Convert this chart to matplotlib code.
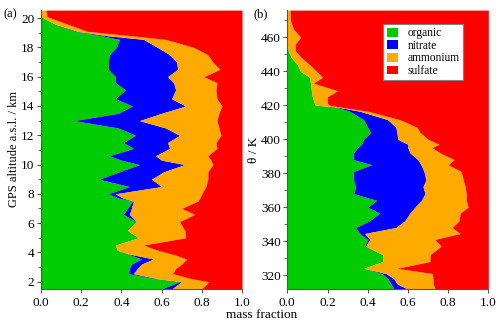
import numpy as np
import matplotlib
matplotlib.use('Agg')
import matplotlib.pyplot as plt
from matplotlib.patches import Patch
from matplotlib.ticker import MultipleLocator

plt.rcParams['font.family'] = ['Liberation Serif', 'DejaVu Serif']

# panel (a): mass fractions vs GPS altitude (km)
alt = [20.55, 20.1, 19.6, 19.1, 18.8, 18.55, 18.0, 17.5, 17.0, 16.5, 16.0, 15.6,
       15.1, 14.5, 14.0, 13.5, 13.0, 12.5, 12.0, 11.5, 11.1, 10.6, 10.3, 10.0,
       9.5, 9.0, 8.5, 8.0, 7.7, 7.5, 7.0, 6.6, 6.1, 5.5, 5.0, 4.5, 4.15, 3.9,
       3.55, 3.2, 2.9, 2.55, 2.2, 2.0, 1.5]
org_a = [0.00, 0.00, 0.07, 0.17, 0.30, 0.39, 0.375, 0.34, 0.335, 0.335, 0.37, 0.37,
         0.42, 0.37, 0.455, 0.385, 0.165, 0.385, 0.47, 0.41, 0.46, 0.34, 0.40, 0.49,
         0.39, 0.29, 0.44, 0.335, 0.39, 0.455, 0.43, 0.41, 0.475, 0.43, 0.485, 0.37, 0.38, 0.43,
         0.50, 0.45, 0.44, 0.435, 0.57, 0.69, 0.60]
nit_a = [0.00, 0.00, 0.00, 0.01, 0.03, 0.12, 0.205, 0.30, 0.34, 0.345, 0.26, 0.29,
         0.25, 0.28, 0.265, 0.215, 0.325, 0.235, 0.22, 0.22, 0.18, 0.23, 0.20, 0.225,
         0.22, 0.26, 0.16, 0.035, 0.02, 0.005, 0.02, 0.03, 0.00, 0.00, 0.00, 0.00, 0.00, 0.005,
         0.06, 0.05, 0.04, 0.025, 0.01, 0.01, 0.05]
amm_a = [0.025, 0.03, 0.06, 0.05, 0.12, 0.11, 0.18, 0.19, 0.18, 0.21, 0.18, 0.215,
         0.20, 0.225, 0.18, 0.285, 0.385, 0.265, 0.205, 0.24, 0.235, 0.26, 0.245, 0.14,
         0.22, 0.28, 0.22, 0.43, 0.38, 0.32, 0.25, 0.325, 0.215, 0.285, 0.235, 0.14, 0.20, 0.215,
         0.165, 0.20, 0.19, 0.195, 0.17, 0.135, 0.15]

# panel (b): mass fractions vs potential temperature (K)
theta = [476, 470, 465, 460, 456, 452, 448, 444, 440, 436.5, 433, 428.5, 425, 421, 420,
         419, 416.5, 411.5, 407, 404, 400, 397, 395, 392, 388, 385, 381, 376, 372,
         368, 364, 360, 356.5, 352, 348, 344.5, 341, 337, 332, 328, 324, 321, 318, 315, 312]
org_b = [0.0, 0.0, 0.0, 0.0, 0.0, 0.005, 0.02, 0.05, 0.065, 0.11, 0.115, 0.12, 0.125, 0.135, 0.14,
         0.24, 0.31, 0.38, 0.40, 0.415, 0.38, 0.37, 0.35, 0.33, 0.33, 0.42, 0.33, 0.33, 0.34,
         0.33, 0.445, 0.40, 0.46, 0.41, 0.34, 0.36, 0.40, 0.385, 0.475, 0.475, 0.38, 0.47, 0.50, 0.515, 0.53]
nit_b = [0.0, 0.0, 0.0, 0.0, 0.0, 0.0, 0.0, 0.0, 0.0, 0.0, 0.0, 0.0, 0.0, 0.0, 0.0,
         0.005, 0.05, 0.12, 0.14, 0.13, 0.17, 0.23, 0.25, 0.28, 0.32, 0.245, 0.35, 0.36, 0.335,
         0.355, 0.223, 0.235, 0.15, 0.175, 0.20, 0.025, 0.01, 0.005, 0.0, 0.0, 0.0, 0.02, 0.03, 0.03, 0.065]
amm_b = [0.013, 0.015, 0.03, 0.066, 0.04, 0.035, 0.05, 0.06, 0.08, 0.066, 0.015, 0.13, 0.075, 0.065, 0.07,
         0.015, 0.04, 0.06, 0.105, 0.115, 0.15, 0.155, 0.12, 0.15, 0.18, 0.135, 0.185, 0.185, 0.21,
         0.205, 0.222, 0.265, 0.25, 0.27, 0.28, 0.475, 0.325, 0.375, 0.235, 0.235, 0.165, 0.23, 0.195, 0.18, 0.14]

species = ['organic', 'nitrate', 'ammonium', 'sulfate']
colors = ['#00cc00', '#0000ff', '#ffaa00', '#ff0000']


def stack(ax, y, org, nit, amm):
    y = np.array(y)
    c1 = np.array(org)
    c2 = c1 + np.array(nit)
    c3 = c2 + np.array(amm)
    bounds = [np.zeros_like(c1), c1, c2, c3, np.ones_like(c1)]
    for i in range(4):
        ax.fill_betweenx(y, bounds[i], bounds[i + 1], color=colors[i], lw=0)


def style(ax):
    ax.set_xlim(0, 1)
    ax.set_xticks([0, 0.2, 0.4, 0.6, 0.8, 1.0])
    ax.set_xticklabels(['0.0', '0.2', '0.4', '0.6', '0.8', '1.0'])
    ax.spines['top'].set_visible(False)
    ax.spines['right'].set_visible(False)
    for s in ['left', 'bottom']:
        ax.spines[s].set_color('#555555')
        ax.spines[s].set_linewidth(0.8)
    ax.tick_params(which='both', direction='out', color='#555555', labelsize=9.5)
    ax.tick_params(axis='x', pad=3)
    ax.tick_params(axis='y', pad=1.5)
    ax.tick_params(which='major', length=3.2)
    ax.tick_params(which='minor', length=2)


fig = plt.figure(figsize=(5, 3.21), dpi=100)

ax1 = fig.add_axes([0.082, 0.1006, 0.402, 0.868])
stack(ax1, alt, org_a, nit_a, amm_a)
style(ax1)
ax1.set_ylim(1.52, 20.55)
ax1.yaxis.set_major_locator(MultipleLocator(2))
ax1.yaxis.set_minor_locator(MultipleLocator(1))
ax1.set_ylabel('GPS altitude a.s.l. / km', fontsize=9, labelpad=1)

ax2 = fig.add_axes([0.5746, 0.1006, 0.402, 0.868])
stack(ax2, theta, org_b, nit_b, amm_b)
style(ax2)
ax2.set_ylim(312, 476)
ax2.yaxis.set_major_locator(MultipleLocator(20))
ax2.yaxis.set_minor_locator(MultipleLocator(10))
ax2.set_ylabel('θ / K', fontsize=9.5, labelpad=1)

handles = [Patch(facecolor=c, edgecolor='none') for c in colors]
leg = ax2.legend(handles, species, loc='upper right', bbox_to_anchor=(0.874, 0.951),
                 borderaxespad=0, fontsize=8.3, frameon=True, fancybox=False, framealpha=1,
                 edgecolor='#808080', handlelength=1.0, handleheight=0.8,
                 handletextpad=0.8, borderpad=0.3, labelspacing=0.05)
leg.get_frame().set_linewidth(0.8)

fig.text(0.006, 0.975, '(a)', fontsize=9, va='top')
fig.text(0.506, 0.975, '(b)', fontsize=9, va='top')
fig.text(0.524, 0.0, 'mass fraction', fontsize=9.5, ha='center', va='bottom')

fig.savefig('out.png', dpi=100)
